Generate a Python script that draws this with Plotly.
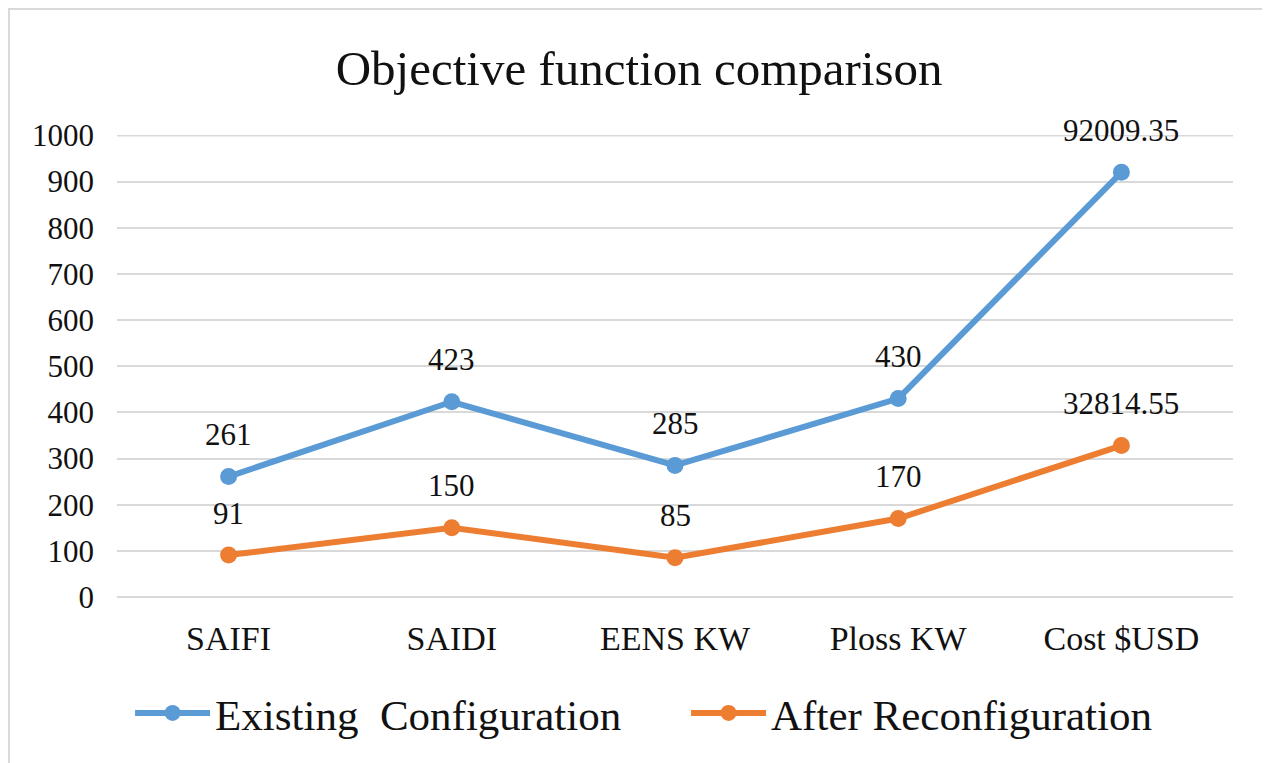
import plotly.graph_objects as go

# chart data
categories = ["SAIFI", "SAIDI", "EENS KW", "Ploss KW", "Cost $USD"]
existing_vals = [261, 423, 285, 430, 920.09]
existing_labels = ["261", "423", "285", "430", "92009.35"]
after_vals = [91, 150, 85, 170, 328.15]
after_labels = ["91", "150", "85", "170", "32814.55"]
y_ticks = [0, 100, 200, 300, 400, 500, 600, 700, 800, 900, 1000]

BLUE = "#5B9BD5"
ORANGE = "#ED7D31"
FONT = "Liberation Serif"
TXT = "#111111"

fig = go.Figure()
fig.add_trace(go.Scatter(
    x=categories, y=existing_vals, mode="lines+markers",
    name="Existing\u00a0 Configuration",
    line=dict(color=BLUE, width=6),
    marker=dict(color=BLUE, size=17),
))
fig.add_trace(go.Scatter(
    x=categories, y=after_vals, mode="lines+markers",
    name="After Reconfiguration",
    line=dict(color=ORANGE, width=6),
    marker=dict(color=ORANGE, size=17),
))

# data labels above each point
for vals, labels in [(existing_vals, existing_labels), (after_vals, after_labels)]:
    for c, v, t in zip(categories, vals, labels):
        fig.add_annotation(x=c, y=v, text=t, showarrow=False, yshift=42,
                           font=dict(family=FONT, size=31, color=TXT))

# top gridline (plotly drops the one sitting on the plot edge)
fig.add_shape(type="line", xref="paper", yref="y", x0=0, x1=1,
              y0=y_ticks[-1], y1=y_ticks[-1],
              line=dict(color="#D9D9D9", width=2), layer="below")

# outer chart border
fig.add_shape(type="rect", xref="paper", yref="paper",
              x0=-0.0968, x1=1.0314, y0=-0.40, y1=1.2727,
              line=dict(color="#D9D9D9", width=2), layer="below")

fig.update_layout(
    width=1270, height=763,
    margin=dict(l=109, r=45, t=127, b=174),
    paper_bgcolor="white", plot_bgcolor="white",
    font=dict(family=FONT, color=TXT),
    title=dict(text="Objective function comparison", x=0.497, xanchor="center",
               y=1 - 60 / 763, yanchor="middle",
               font=dict(family=FONT, size=49, color=TXT)),
    showlegend=True,
    legend=dict(orientation="h", x=0.0117, xanchor="left", y=-0.251, yanchor="middle",
                font=dict(family=FONT, size=43, color=TXT),
                itemwidth=75, entrywidth=466, entrywidthmode="pixels",
                bgcolor="rgba(0,0,0,0)"),
)
fig.update_xaxes(range=[-0.5, 4.5], showgrid=False, showline=False, zeroline=False,
                 tickfont=dict(family=FONT, size=34, color=TXT),
                 ticklabelstandoff=18)
fig.update_yaxes(range=[0, 1001], tickvals=y_ticks, showgrid=True,
                 gridcolor="#D9D9D9", gridwidth=2,
                 zeroline=True, zerolinecolor="#D9D9D9", zerolinewidth=2,
                 showline=False,
                 tickfont=dict(family=FONT, size=31, color=TXT),
                 ticklabelstandoff=22)

fig.write_html("out.html")
